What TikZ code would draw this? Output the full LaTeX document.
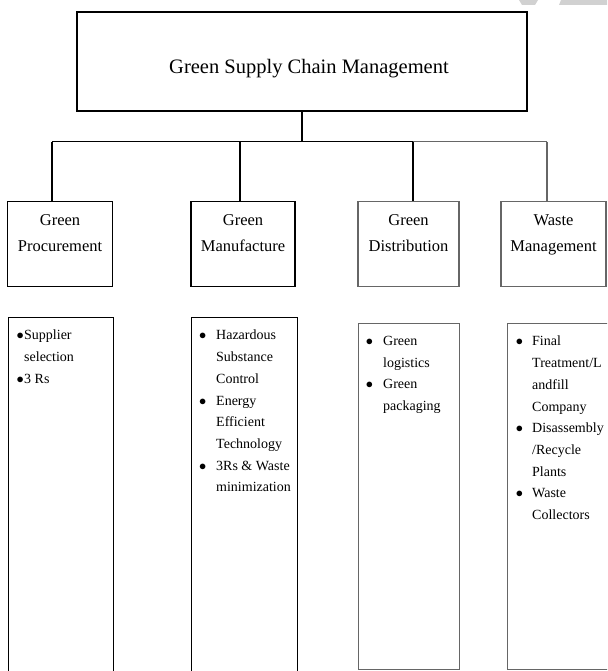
\documentclass[tikz,border=0pt]{standalone}
\usepackage{fontspec}
\setmainfont{Liberation Serif}
\usetikzlibrary{positioning}
\newcommand{\bul}[1]{\makebox[#1][l]{$\bullet$}}
\newcommand{\ind}[1]{\hspace*{#1}}
\begin{document}
\begin{tikzpicture}[x=1pt,y=1pt]
    \tikzset{box/.style={draw,rectangle,line width=1.2pt,inner sep=0pt},
        greybox/.style={box,draw=black!60},
        head/.style={minimum width=450pt,minimum height=99pt},
        branch/.style={minimum height=85pt},
        headtext/.style={font=\fontsize{20.5}{24}\selectfont,inner sep=0pt},
        branchtext/.style={font=\fontsize{16.5}{26}\selectfont,align=center,inner sep=0pt,anchor=north},
        itemtext/.style={font=\fontsize{14}{21.7}\selectfont,align=left,inner sep=0pt,anchor=north west},
        link/.style={draw,line width=1.2pt}}
    \clip (0,0) rectangle (607,-671);
    % faint marks at the top edge
    \fill[black!18] (519,0) -- (538,0) -- (535,-5) -- (522,-5) -- cycle;
    \fill[black!18] (561,0) -- (607,0) -- (607,-5) -- (559,-5) -- cycle;
    % top
    \node[box,head] (gscm) at (302,-61.5) {};
    \node[headtext] (gscmtext) at (309,-69) {Green Supply Chain Management};
    % branches
    \node[box,branch,minimum width=105pt] (proc) at (60,-244) {};
    \node[box,branch,minimum width=104pt] (manu) at (243,-244) {};
    \node[greybox,branch,minimum width=101pt] (dist) at (408.5,-244) {};
    \node[greybox,branch,minimum width=105pt] (waste) at (553.5,-244) {};
    \node[branchtext] (proctext) at ([yshift=-13.5pt]proc.north) {Green\\Procurement};
    \node[branchtext] (manutext) at ([yshift=-13.5pt]manu.north) {Green\\Manufacture};
    \node[branchtext] (disttext) at ([yshift=-13.5pt]dist.north) {Green\\Distribution};
    \node[branchtext] (wastetext) at ([yshift=-13.5pt]waste.north) {Waste\\Management};
    % connectors
    \coordinate (hub) at ([yshift=-30pt]gscm.south);
    \coordinate (jproc) at ([xshift=-8pt]proc.north);
    \coordinate (jmanu) at ([xshift=-3pt]manu.north);
    \coordinate (jdist) at ([xshift=4.5pt]dist.north);
    \coordinate (jwaste) at ([xshift=-6.5pt]waste.north);
    \draw[link] (gscm.south) -- (hub);
    \draw[link] (jproc |- hub) -- (jdist |- hub);
    \draw[link,black!60] (jdist |- hub) -- (jwaste |- hub);
    \draw[link] (jproc |- hub) -- (jproc);
    \draw[link] (jmanu |- hub) -- (jmanu);
    \draw[link] (jdist |- hub) -- (jdist);
    \draw[link,black!60] (jwaste |- hub) -- (jwaste);
    % lists
    \node[box,minimum width=105pt,minimum height=380pt,anchor=north west] (lproc) at (7.5,-317) {};
    \node[box,minimum width=106pt,minimum height=380pt,anchor=north west] (lmanu) at (191,-317) {};
    \node[greybox,minimum width=101pt,minimum height=346pt,anchor=north west] (ldist) at (358,-323) {};
    \node[greybox,minimum width=113pt,minimum height=346pt,anchor=north west] (lwaste) at (507,-323) {};
    \node[itemtext] (proclist) at (16.3,-330) {\bul{7.7pt}Supplier\\\ind{7.7pt}selection\\\bul{7.7pt}3 Rs};
    \node[itemtext] (manulist) at (199,-330) {\bul{17pt}Hazardous\\\ind{17pt}Substance\\\ind{17pt}Control\\
        \bul{17pt}Energy\\\ind{17pt}Efficient\\\ind{17pt}Technology\\\bul{17pt}3Rs \& Waste\\\ind{17pt}minimization};
    \node[itemtext] (distlist) at (365.7,-336) {\bul{17.3pt}Green\\\ind{17.3pt}logistics\\\bul{17.3pt}Green\\\ind{17.3pt}packaging};
    \node[itemtext] (wastelist) at (515.7,-336) {\bul{16.3pt}Final\\\ind{16.3pt}Treatment/L\\\ind{16.3pt}andfill\\\ind{16.3pt}Company\\
        \bul{16.3pt}Disassembly\\\ind{16.3pt}/Recycle\\\ind{16.3pt}Plants\\\bul{16.3pt}Waste\\\ind{16.3pt}Collectors};
\end{tikzpicture}
\end{document}
